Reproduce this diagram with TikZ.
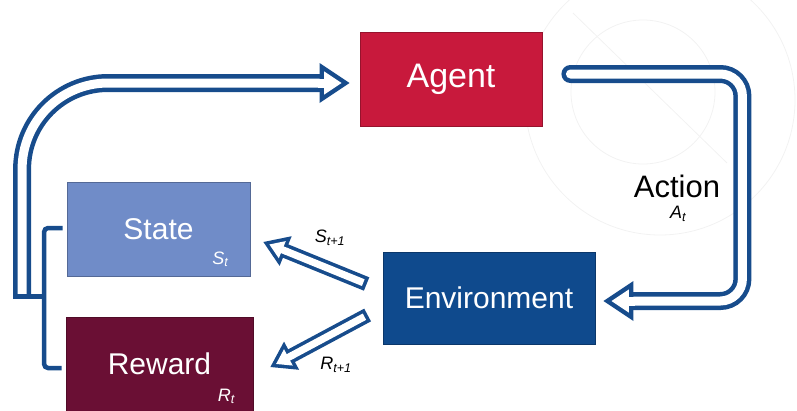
\documentclass[tikz,border=0pt]{standalone}
\usepackage{fontspec}
\setmainfont{Liberation Sans}
\usetikzlibrary{calc}

\definecolor{loopblue}{HTML}{174C8C}
\definecolor{agentred}{HTML}{C8193C}
\definecolor{statebl}{HTML}{708CC8}
\definecolor{rewardred}{HTML}{6A0F34}
\definecolor{envblue}{HTML}{0F4A8D}

\tikzset{
  block/.style={draw=#1!75!black, fill=#1, text=white, line width=.8pt,
    font=\fontsize{30}{36}\selectfont},
  sub/.style={font=\fontsize{18}{20}\selectfont\itshape, inner sep=0pt},
  shaft/.style={draw=loopblue, line width=18pt},
  hollow/.style={draw=white, line width=9pt},
  thinloop/.style={draw=loopblue, line width=4.5pt},
  pics/head/.style={code={
    \fill[loopblue] (0,0) -- (-30,20) -- (-30,-20) -- cycle;
    \fill[white] (-8.1,0) -- (-25.5,11.6) -- (-25.5,-11.6) -- cycle;
    \fill[white] (-32,-4.5) rectangle (-24,4.5);
  }}
}

\begin{document}
\begin{tikzpicture}[x=1pt, y=-1pt]
	\useasboundingbox (0,0) rectangle (797,410);
	% faint figure behind
	\draw[black!5, line width=.8pt] (643,92) circle [radius=72];
	\draw[black!5, line width=.8pt] (660,100) circle [radius=135];
	\draw[black!5, line width=.8pt] (573,13) -- (727,163);

	\node[block=agentred, minimum width=182pt, minimum height=94pt, font=\fontsize{34}{40}\selectfont] (agent) at (451,79) {Agent};
	\node[block=statebl, minimum width=183pt, minimum height=94pt] (state) at (158.5,229) {State};
	\node[block=rewardred, minimum width=187pt, minimum height=94pt] (reward) at (159.5,364) {Reward};
	\node[block=envblue, minimum width=212pt, minimum height=92pt] (env) at (489,298) {Environment};

	\node[sub, text=white] (st) at ($(state.south east)+(-30,-17)$) {S\textsubscript{t}};
	\node[sub, text=white] (rt) at ($(reward.south east)+(-27,-15)$) {R\textsubscript{t}};
	\node[font=\fontsize{31}{36}\selectfont, inner sep=0pt] (action) at (677,186) {Action};
	\node[sub] (alabel) at (678,214) {A\textsubscript{t}};
	\node[sub] (snext) at (330,238) {S\textsubscript{t+1}};
	\node[sub] (rnext) at (336,365) {R\textsubscript{t+1}};

	% state and reward go back to the agent
	\coordinate (fb) at ($(state.west)!.5!(reward.west)$);
	\draw[thinloop, rounded corners=4] ($(state.west)+(-4,-1)$) -| ($(fb)+(-22,0)$) |- ($(reward.west)+(-4,4)$);
	\coordinate (up) at ($(agent.west)+(-10,4)$);
	\draw[shaft, rounded corners=86] ($(fb)+(-44,0)$) |- ($(up)+(-28,0)$);
	\draw[hollow, rounded corners=86] ($(fb)+(-44,0)$) |- ($(up)+(-28,0)$);
	\draw[thinloop] ($(fb)+(-53,0)$) -- ($(fb)+(-22,0)$);
	\path (up) pic {head};

	% action
	\coordinate (act) at ($(agent.east)+(28,-5)$);
	\coordinate (down) at ($(env.east)+(8,3)$);
	\draw[shaft, rounded corners=22, line cap=round] (act) -| ($(down)+(139,0)$) -- ($(down)+(28,0)$);
	\draw[hollow, rounded corners=22, line cap=round] (act) -| ($(down)+(139,0)$) -- ($(down)+(28,0)$);
	\path (down) pic[rotate=180] {head};

	% environment answers
	\coordinate (s1) at ($(env.west)+(-16,-14)$);
	\coordinate (s2) at ($(state.east)+(13,13)$);
	\draw[shaft, line width=14.4pt] (s1) -- ($(s2)!22pt!(s1)$);
	\draw[hollow, line width=7.2pt, shorten <=3.6pt] (s1) -- ($(s2)!22pt!(s1)$);
	\path let \p1=($(s2)-(s1)$) in (s2) pic[rotate={atan2(\y1,\x1)}, scale=.8] {head};

	\coordinate (r1) at ($(env.west)+(-15,17)$);
	\coordinate (r2) at ($(reward.east)+(17,3)$);
	\draw[shaft, line width=14.4pt] (r1) -- ($(r2)!22pt!(r1)$);
	\draw[hollow, line width=7.2pt, shorten <=3.6pt] (r1) -- ($(r2)!22pt!(r1)$);
	\path let \p1=($(r2)-(r1)$) in (r2) pic[rotate={atan2(\y1,\x1)}, scale=.8] {head};
\end{tikzpicture}
\end{document}
